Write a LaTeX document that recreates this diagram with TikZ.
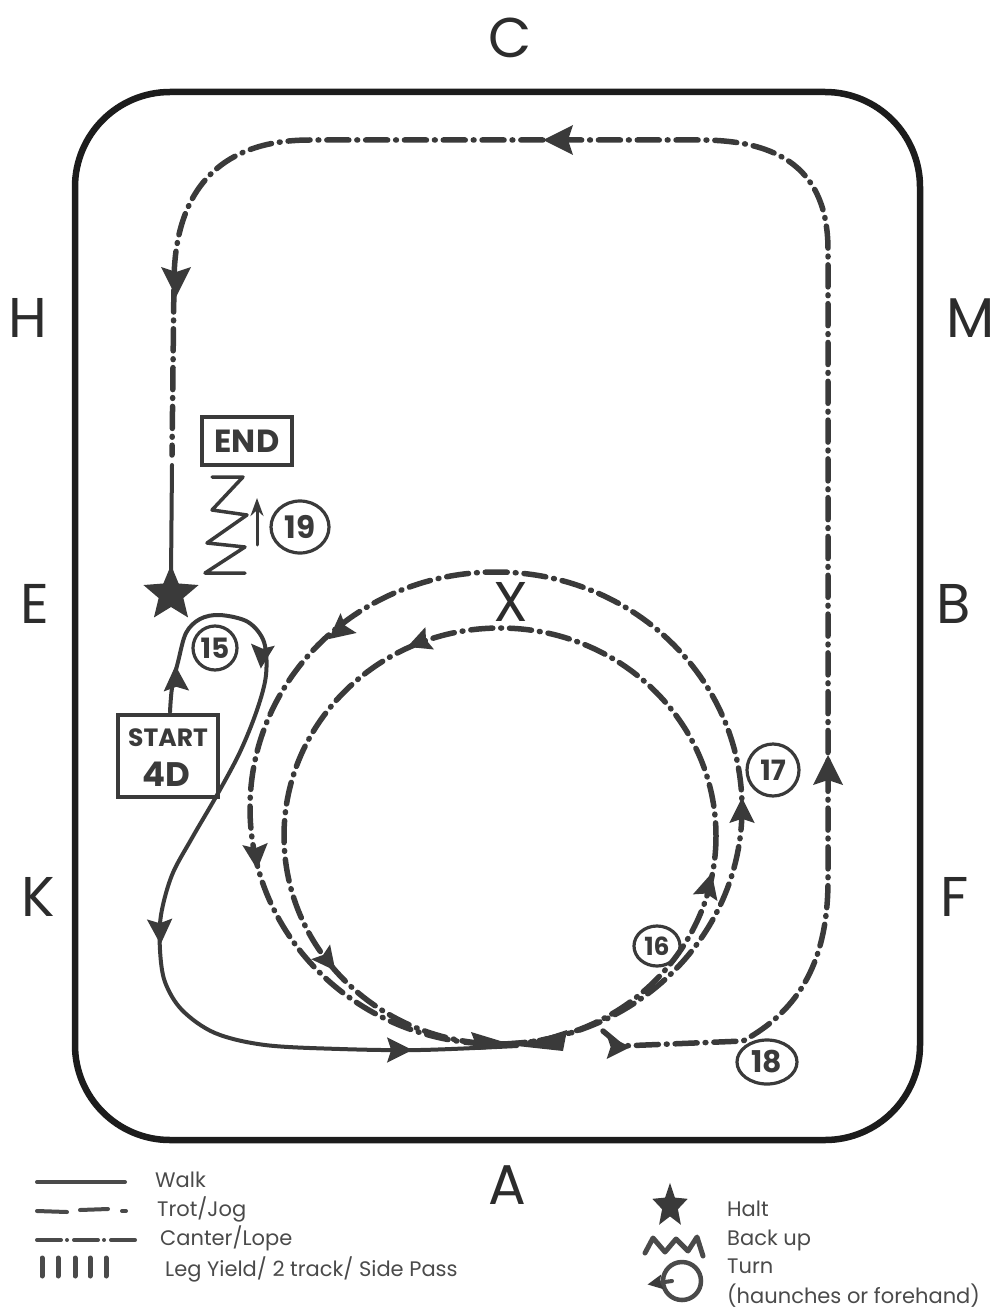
\documentclass[tikz,border=0pt]{standalone}
\usepackage{fontspec}
\setmainfont{Poppins}
\usetikzlibrary{arrows.meta,shapes.geometric}
\definecolor{ink}{HTML}{3A3A3A}
\definecolor{railink}{HTML}{1C1C1C}
\definecolor{lettering}{HTML}{2C2C2C}
\definecolor{keyink}{HTML}{4A4A4A}
\tikzset{
  dart/.pic={\fill[ink] (17,0) -- (-13,-15) -- (-8,0) -- (-13,15) -- cycle;},
  halt/.pic={\fill[ink] (-90:29) -- (-54:13) -- (-18:29) -- (18:13) -- (54:29) -- (90:13)
      -- (126:29) -- (162:13) -- (198:29) -- (234:13) -- cycle;},
}
\begin{document}
\begin{tikzpicture}[x=1pt,y=-1pt,
  rail/.style={draw=railink,line width=6.5pt,rounded corners=95pt},
  canter/.style={draw=ink,line width=5.5pt,line cap=round,dash pattern=on 22pt off 8pt on 0.8pt off 8pt},
  walk/.style={draw=ink,line width=4pt,line cap=round,line join=round},
  letter/.style={text=lettering,font=\fontsize{56}{60}\selectfont,inner sep=0},
  numring/.style={draw=ink,line width=3.2pt,ellipse,inner sep=0,text=ink,font=\bfseries\fontsize{28}{30}\selectfont},
  tagbox/.style={draw=ink,line width=3.5pt,inner sep=0,text=ink},
  tagtext/.style={text=ink,inner sep=0},
  keytext/.style={text=keyink,font=\fontsize{21}{24}\selectfont,anchor=west,inner sep=0,text height=15pt,text depth=4pt},
  keyline/.style={draw=keyink,line width=4pt,line cap=round},
]
\useasboundingbox (0,0) rectangle (998,1313);

% arena fence
\draw[rail] (75,92) rectangle (920,1140);

% letters round the arena
\node[letter] (C) at (510,38) {C};
\node[letter] (H) at (28,318) {H};
\node[letter] (M) at (971,318) {M};
\node[letter] (E) at (35,604) {E};
\node[letter] (B) at (954,604) {B};
\node[letter] (K) at (38,897) {K};
\node[letter] (F) at (955,897) {F};
\node[letter] (A) at (507,1185) {A};
\node[letter] (X) at (511,602) {X};

% canter round the outside track, from 18 up to M, across C and down to H
\coordinate (r18) at (743,1041);
\coordinate (hdown) at (172,455);
\draw[canter] (603,1031) -- (621,1046) -- (r18) .. controls (800,1010) and (828,960) .. (828,880)
  -- (828,250) .. controls (828,170) and (780,140) .. (700,140) -- (310,140)
  .. controls (220,140) and (175,190) .. (174,280) -- (hdown);

% walk into the halt at E
\coordinate (hwalk) at (172,465);
\coordinate (haltpt) at (171,575);
\draw[walk] (hwalk) -- (haltpt);

% the two circles through X
\draw[canter] (496,808) ellipse [x radius=246, y radius=236];
\draw[canter] (500,836) ellipse [x radius=216, y radius=208];

% walk: start, turn at 15, down past K and along to the circles
\draw[walk] plot[smooth,tension=0.55] coordinates {(170,712) (172,688) (178,662) (186,633) (200,619)
  (220,615) (248,622) (264,642) (266,675) (257,710) (240,752) (217,795) (192,838) (172,875)
  (161,915) (160,950) (165,982) (182,1010) (215,1033) (265,1045) (340,1049) (420,1050) (517,1046)};

% where the lines meet on the centre line
\fill[ink] (471,1032) -- (517,1046) -- (478,1050) -- cycle;
\fill[ink] (517,1046) -- (567,1030) -- (563,1051) -- cycle;

% direction marks
\pic[rotate=180] at (560,140) {dart};
\pic[rotate=-90] at (176,280) {dart};
\pic[rotate=90] at (828,772) {dart};
\pic[rotate=92,scale=0.85] at (176,680) {dart};
\pic[rotate=-95,scale=0.8] at (262,655) {dart};
\pic[rotate=-88,scale=0.85] at (160,930) {dart};
\pic[scale=0.85] at (398,1050) {dart};
\pic[rotate=219,scale=0.85] at (340,630) {dart};
\pic[rotate=201,scale=0.8] at (420,642) {dart};
\pic[rotate=-85,scale=0.85] at (256,855) {dart};
\pic[rotate=-52,scale=0.8] at (327,960) {dart};
\pic[rotate=75,scale=0.85] at (708,887) {dart};
\pic[rotate=90,scale=0.85] at (742,812) {dart};
\pic[scale=0.8] at (617,1047) {dart};

% halt
\pic at (171,594) {halt};

% back up to the end
\draw[walk,line width=3.5pt] (212,477) -- (243,477) -- (212,510) -- (247,515) -- (207,543)
  -- (245,547) -- (205,573) -- (245,573);
\coordinate (upfrom) at (257,545);
\coordinate (upto) at (257,498);
\draw[walk,line width=3pt,-{Stealth[length=18pt,width=13pt]}] (upfrom) -- (upto);

% boxes
\node[tagbox,minimum width=90,minimum height=48,font=\bfseries\fontsize{32}{34}\selectfont] (endbox) at (247,441) {END};
\node[tagbox,minimum width=100,minimum height=82] (startbox) at (168,756) {};
\node[tagtext,font=\bfseries\fontsize{25}{26}\selectfont] (starttxt) at (168,738) {START};
\node[tagtext,font=\bfseries\fontsize{34}{34}\selectfont] (fourd) at (166,774) {4D};

% numbered movements
\node[numring,minimum width=44,minimum height=44] (n15) at (215,648) {15};
\node[numring,minimum width=46,minimum height=40,font=\bfseries\fontsize{25}{27}\selectfont] (n16) at (657,946) {16};
\node[numring,minimum width=52,minimum height=52] (n17) at (773,770) {17};
\node[numring,minimum width=60,minimum height=44,font=\bfseries\fontsize{30}{32}\selectfont] (n18) at (767,1062) {18};
\node[numring,minimum width=58,minimum height=52,font=\bfseries\fontsize{31}{33}\selectfont] (n19) at (300,527) {19};

% key: gaits
\draw[keyline] (37,1182) -- (125,1182);
\draw[keyline] (37,1211) -- (67,1212);
\draw[keyline] (80,1210) -- (108,1209);
\draw[keyline] (122,1211) -- (126,1211);
\draw[keyline,dash pattern=on 24pt off 6pt on 0.01pt off 7pt] (37,1240) -- (140,1240);
\foreach \tx in {42,58,75,90,106} \draw[keyline,line width=5pt] (\tx,1258) -- (\tx,1276);
\node[keytext] (kwalk) at (155,1182) {Walk};
\node[keytext] (ktrot) at (157,1211) {Trot/Jog};
\node[keytext] (kcanter) at (160,1240) {Canter/Lope};
\node[keytext] (kyield) at (165,1271) {Leg Yield/ 2 track/ Side Pass};

% key: movements
\pic[xscale=0.8,scale=0.8] at (670,1206) {halt};
\draw[keyline,line width=5pt,line join=round] (645,1253) -- (653,1238) -- (665,1252) -- (676,1239)
  -- (688,1251) -- (697,1237) -- (703,1256);
\draw[keyline,line width=4.5pt] (682,1281) circle [radius=19];
\draw[keyline] (672,1281) -- (657,1283);
\pic[rotate=190,scale=0.5] at (656,1283) {dart};
\node[keytext] (khalt) at (727,1211) {Halt};
\node[keytext] (kback) at (727,1240) {Back up};
\node[keytext] (kturn) at (727,1268) {Turn};
\node[keytext] (khaunch) at (727,1298) {(haunches or forehand)};
\end{tikzpicture}
\end{document}
